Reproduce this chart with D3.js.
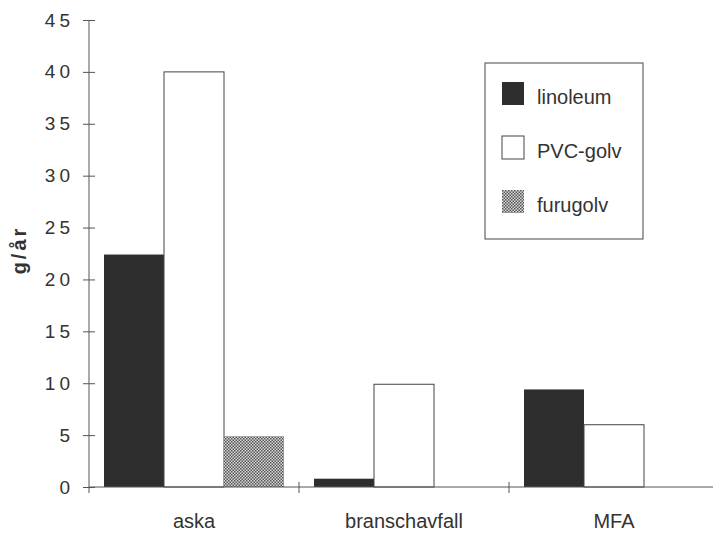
<!DOCTYPE html>
<html>
<head>
<meta charset="utf-8">
<script src="https://cdn.jsdelivr.net/npm/d3@7"></script>
<style>
  body { margin: 0; background: #fff; }
  text { font-family: "Liberation Sans", Arial, sans-serif; fill: #333; }
</style>
</head>
<body>
<div id="chart"></div>
<script>
(function() {
    // Data
    var categories = ["aska", "branschavfall", "MFA"];
    var seriesNames = ["linoleum", "PVC-golv", "furugolv"];
    var linoleum = [22.4, 0.8, 9.4];
    var pvcGolv = [40, 9.9, 6.0];
    var furugolv = [4.9, 0, 0];
    var yTicks = [0, 5, 10, 15, 20, 25, 30, 35, 40, 45];

    var seriesValues = [linoleum, pvcGolv, furugolv];

    var width = 713, height = 534;
    var svg = d3.select("#chart").append("svg")
        .attr("width", width)
        .attr("height", height);

    // Checkered pattern for furugolv
    var defs = svg.append("defs");
    var pat = defs.append("pattern")
        .attr("id", "checker")
        .attr("width", 3).attr("height", 3)
        .attr("patternUnits", "userSpaceOnUse");
    pat.append("rect").attr("width", 3).attr("height", 3).attr("fill", "#d8d8d8");
    pat.append("rect").attr("width", 1.5).attr("height", 1.5).attr("fill", "#555");
    pat.append("rect").attr("x", 1.5).attr("y", 1.5).attr("width", 1.5).attr("height", 1.5).attr("fill", "#555");

    var fills = ["#2e2e2e", "#ffffff", "url(#checker)"];

    // Scales
    var x = d3.scaleBand().domain(categories).range([89, 719]).paddingInner(0).paddingOuter(0);
    var xInner = d3.scaleBand().domain(seriesNames).range([0, x.bandwidth()]).paddingInner(0).paddingOuter(0.25);
    var y = d3.scaleLinear().domain([0, 45]).range([487, 20]);

    // Bars
    categories.forEach(function(cat, ci) {
        seriesNames.forEach(function(s, si) {
            var v = seriesValues[si][ci];
            if (!v) return;
            svg.append("rect")
                .attr("x", x(cat) + xInner(s))
                .attr("y", y(v))
                .attr("width", xInner.bandwidth())
                .attr("height", y(0) - y(v))
                .attr("fill", fills[si])
                .attr("stroke", si === 1 ? "#444" : "none")
                .attr("stroke-width", 1);
        });
    });

    // Y axis
    var yAxis = svg.append("g")
        .attr("transform", "translate(89,0)")
        .call(d3.axisLeft(y).tickValues(yTicks).tickSize(6).tickPadding(13));
    yAxis.select(".domain").remove();
    yAxis.append("line")
        .attr("x1", 0).attr("x2", 0)
        .attr("y1", y(45)).attr("y2", y(0) + 6)
        .attr("stroke", "#555");
    yAxis.selectAll(".tick line")
        .attr("x1", 6).attr("x2", -6)
        .attr("stroke", "#555");
    yAxis.selectAll(".tick text")
        .attr("font-size", "19px")
        .attr("letter-spacing", "4px")
        .attr("fill", "#333")
        .attr("dx", "4px");

    // X axis
    var xAxis = svg.append("g")
        .attr("transform", "translate(0," + y(0) + ")")
        .call(d3.axisBottom(x).tickSize(0).tickPadding(27));
    xAxis.select(".domain").attr("stroke", "#555").attr("d", "M89,0H713");
    xAxis.selectAll(".tick text")
        .attr("font-size", "20px")
        .attr("fill", "#333");
    // category separators
    categories.slice(1).forEach(function(cat) {
        xAxis.append("line")
            .attr("x1", x(cat)).attr("x2", x(cat))
            .attr("y1", -5).attr("y2", 6)
            .attr("stroke", "#555");
    });

    // Y label
    svg.append("text")
        .attr("transform", "translate(26,250) rotate(-90)")
        .attr("text-anchor", "middle")
        .attr("font-size", "20px")
        .attr("font-weight", "bold")
        .attr("letter-spacing", "3px")
        .text("g/år");

    // Legend
    var legend = svg.append("g").attr("transform", "translate(485,63)");
    legend.append("rect")
        .attr("width", 158).attr("height", 176)
        .attr("fill", "#fff")
        .attr("stroke", "#444");
    seriesNames.forEach(function(s, i) {
        var g = legend.append("g").attr("transform", "translate(17," + (19 + i * 54) + ")");
        g.append("rect")
            .attr("width", 22).attr("height", 23)
            .attr("fill", fills[i])
            .attr("stroke", i === 1 ? "#444" : "none");
        g.append("text")
            .attr("x", 35).attr("y", 22)
            .attr("font-size", "20px")
            .text(s);
    });
})();
</script>
</body>
</html>
